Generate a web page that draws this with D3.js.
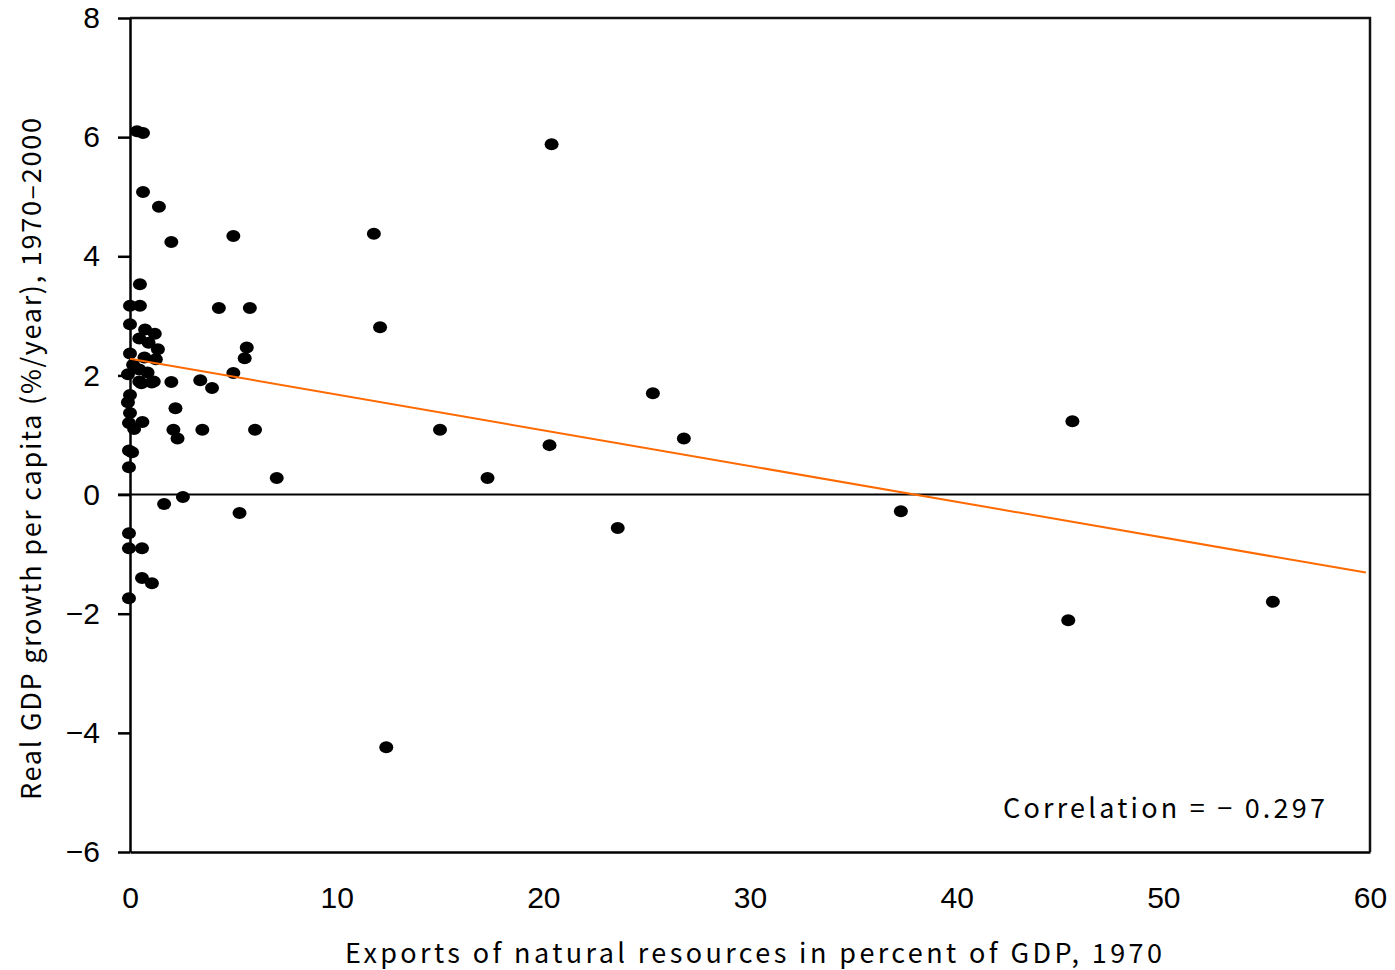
<!DOCTYPE html>
<html>
<head>
<meta charset="utf-8">
<script src="https://cdn.jsdelivr.net/npm/d3@7"></script>
<style>
  body { margin: 0; background: #fff; }
  svg { display: block; }
</style>
</head>
<body>
<div id="chart"></div>
<script>
// Natural resource exports vs. growth scatter

const width = 1395;
const height = 970;
const margin = { top: 18, right: 25, bottom: 118, left: 130 };

// exports of natural resources, % of GDP (1970)
const exportsPct = [
  0.34, 0.63, 0.63, 1.4, 2.0, 5.0, 0.48, 0.0, 0.48, 4.3, 5.8,
  0.0, 0.73, 1.2, 0.45, 0.9, 1.35, 5.65, 0.0, 0.7, 5.55, 1.25,
  0.15, 0.45, 0.85, 5.0, -0.1, 0.45, 1.15, 0.55, 1.05, 2.0, 3.4,
  3.97, 0.0, -0.1, 2.2, 0.0, -0.05, 0.6, 0.2, 2.1, 2.3, 3.5, 6.05,
  -0.05, 0.1, -0.05, 7.1, 1.65, 2.56, 5.3, -0.05, -0.05, 0.58, 0.58,
  1.06, -0.05, 11.8, 12.1, 12.4, 15.0, 17.3, 20.3, 20.4, 23.6, 25.3,
  26.8, 37.3, 45.6, 45.4, 55.3
];

// real GDP growth per capita, %/year (1970-2000)
const growthPct = [
  6.10, 6.07, 5.08, 4.83, 4.24, 4.34, 3.53, 3.17, 3.17, 3.13, 3.13,
  2.86, 2.77, 2.70, 2.62, 2.55, 2.44, 2.47, 2.37, 2.30, 2.29, 2.27,
  2.18, 2.10, 2.05, 2.04, 2.02, 1.90, 1.90, 1.87, 1.88, 1.89, 1.92,
  1.79, 1.67, 1.55, 1.45, 1.37, 1.20, 1.22, 1.10, 1.09, 0.94, 1.09,
  1.09, 0.74, 0.71, 0.46, 0.28, -0.16, -0.04, -0.31, -0.65, -0.90, -0.90,
  -1.40, -1.49, -1.74, 4.38, 2.81, -4.24, 1.09, 0.28, 0.83, 5.88, -0.56,
  1.70, 0.94, -0.28, 1.23, -2.11, -1.80
];

// fitted line
const fitX = [0, 59.8];
const fitY = [2.28, -1.31];

const xTicks = [0, 10, 20, 30, 40, 50, 60];
const yTicks = [-6, -4, -2, 0, 2, 4, 6, 8];

const points = exportsPct.map((x, i) => ({ x: x, y: growthPct[i] }));

const svg = d3.select("#chart")
    .append("svg")
    .attr("width", width)
    .attr("height", height);

const x = d3.scaleLinear()
    .domain([0, 60])
    .range([margin.left, width - margin.right]);

const y = d3.scaleLinear()
    .domain([-6, 8])
    .range([height - margin.bottom, margin.top]);

const labelFont = "'Liberation Sans', Arial, sans-serif";
const titleFont = "'Noto Sans CJK JP', 'Noto Sans', sans-serif";

// frame (top and right)
svg.append("path")
    .attr("d", `M${x(0)},${y(8)}H${x(60)}V${y(-6)}`)
    .attr("fill", "none")
    .attr("stroke", "#111")
    .attr("stroke-width", 2.5);

// y axis with outward ticks
const yAxis = svg.append("g")
    .attr("transform", `translate(${x(0)},0)`)
    .call(d3.axisLeft(y).tickValues(yTicks).tickSize(12).tickSizeOuter(0)
        .tickFormat(d => d < 0 ? "\u2212" + Math.abs(d) : d));
yAxis.select(".domain").attr("stroke", "#000").attr("stroke-width", 2.5);
yAxis.selectAll(".tick line").attr("stroke", "#000").attr("stroke-width", 2.5);
yAxis.selectAll(".tick text")
    .attr("x", -30)
    .style("font-family", labelFont)
    .style("font-size", "30px")
    .attr("fill", "#000");

// x axis, no ticks
const xAxis = svg.append("g")
    .attr("transform", `translate(0,${y(-6)})`)
    .call(d3.axisBottom(x).tickValues(xTicks).tickSize(0).tickSizeOuter(0));
xAxis.select(".domain").attr("stroke", "#000").attr("stroke-width", 2.5);
xAxis.selectAll(".tick text")
    .attr("y", 35)
    .style("font-family", labelFont)
    .style("font-size", "30px")
    .attr("fill", "#000");

// zero line
svg.append("line")
    .attr("x1", x(0) - 12).attr("x2", x(60))
    .attr("y1", y(0)).attr("y2", y(0))
    .attr("stroke", "#000")
    .attr("stroke-width", 2);

// dots
svg.append("g")
    .selectAll("ellipse")
    .data(points)
    .join("ellipse")
    .attr("cx", d => x(d.x))
    .attr("cy", d => y(d.y))
    .attr("rx", 7)
    .attr("ry", 6)
    .attr("fill", "#000");

// trend line
svg.append("line")
    .attr("x1", x(fitX[0])).attr("y1", y(fitY[0]))
    .attr("x2", x(fitX[1])).attr("y2", y(fitY[1]))
    .attr("stroke", "#ff6a00")
    .attr("stroke-width", 2);

// correlation note
svg.append("text")
    .attr("x", 1003)
    .attr("y", 818)
    .attr("textLength", 322)
    .attr("lengthAdjust", "spacing")
    .style("font-family", titleFont)
    .style("font-size", "27px")
    .text("Correlation = \u2212 0.297");

// axis titles
svg.append("text")
    .attr("x", 345)
    .attr("y", 963)
    .attr("textLength", 817)
    .attr("lengthAdjust", "spacing")
    .style("font-family", titleFont)
    .style("font-size", "27px")
    .text("Exports of natural resources in percent of GDP, 1970");

svg.append("text")
    .attr("transform", "translate(41,800) rotate(-90)")
    .attr("textLength", 682)
    .attr("lengthAdjust", "spacing")
    .style("font-family", titleFont)
    .style("font-size", "27px")
    .text("Real GDP growth per capita (%/year), 1970\u20132000");
</script>
</body>
</html>
